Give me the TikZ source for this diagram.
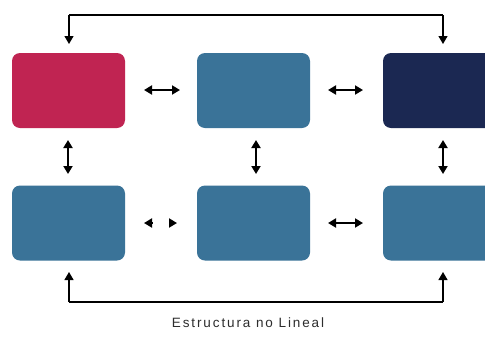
\documentclass[tikz,border=0pt]{standalone}
\usepackage{fontspec}
\setmainfont{Liberation Sans}
\usetikzlibrary{arrows.meta}
\definecolor{cred}{RGB}{192,36,82}
\definecolor{cblue}{RGB}{58,115,152}
\definecolor{cnavy}{RGB}{27,40,82}
\definecolor{ctext}{RGB}{45,45,45}
\tikzset{
  box/.style={rectangle, rounded corners=8pt, minimum width=113pt, minimum height=75pt, inner sep=0pt, draw=none},
  conn/.style={line width=1.8pt, black, {Triangle[length=8pt,width=9pt]}-{Triangle[length=8pt,width=9pt]}},
  oneway/.style={line width=1.2pt, black, -{Triangle[length=8pt,width=9pt]}},
  tips/.style={line width=1.8pt, black, -{Triangle[length=8pt,width=9pt]}}
}
\begin{document}
\begin{tikzpicture}[x=1pt,y=-1pt]
\useasboundingbox (0,0) rectangle (485,338);
\clip (0,0) rectangle (485,338);
\fill[white] (0,0) rectangle (485,338);
% boxes
\node[box, fill=cred]  (a1) at (68.5,90.5) {};
\node[box, fill=cblue] (a2) at (253.5,90.5) {};
\node[box, fill=cnavy] (a3) at (439.5,90.5) {};
\node[box, fill=cblue] (b1) at (68.5,223) {};
\node[box, fill=cblue] (b2) at (253.5,223) {};
\node[box, fill=cblue] (b3) at (439.5,223) {};
% top loop
\coordinate (t1) at (69,15);
\coordinate (t2) at (443,15);
\coordinate (ta) at (69,44);
\coordinate (tb) at (443,44);
\draw[oneway] (t1) -- (ta);
\draw[oneway] (t2) -- (tb);
\draw[line width=1.2pt] (t1) -- (t2);
% bottom loop
\coordinate (u1) at (69,302);
\coordinate (u2) at (443,302);
\coordinate (ua) at (69,272);
\coordinate (ub) at (443,272);
\draw[oneway] (u1) -- (ua);
\draw[oneway] (u2) -- (ub);
\draw[line width=1.2pt] (u1) -- (u2);
% horizontal arrows top
\coordinate (h1a) at (144,90); \coordinate (h1b) at (180,90);
\coordinate (h2a) at (328,90); \coordinate (h2b) at (363,90);
\draw[conn] (h1a) -- (h1b);
\draw[conn] (h2a) -- (h2b);
% bottom horizontal
\coordinate (k1a) at (144,223); \coordinate (k1m) at (152,223);
\coordinate (k1b) at (177,223); \coordinate (k1n) at (169,223);
\draw[tips] (k1m) -- (k1a);
\draw[tips] (k1n) -- (k1b);
\coordinate (k2a) at (328,223); \coordinate (k2b) at (363,223);
\draw[conn] (k2a) -- (k2b);
% vertical arrows
\foreach \x/\n in {68/v1,256/v2,443/v3}{
  \coordinate (\n a) at (\x,140); \coordinate (\n b) at (\x,174);
  \draw[conn] (\n a) -- (\n b);
}
% label
\node[text=ctext, font={\fontsize{13.5}{15}\addfontfeature{LetterSpace=14}\selectfont}, anchor=base] (lbl) at (248,327) {Estructura no Lineal};
\end{tikzpicture}
\end{document}
